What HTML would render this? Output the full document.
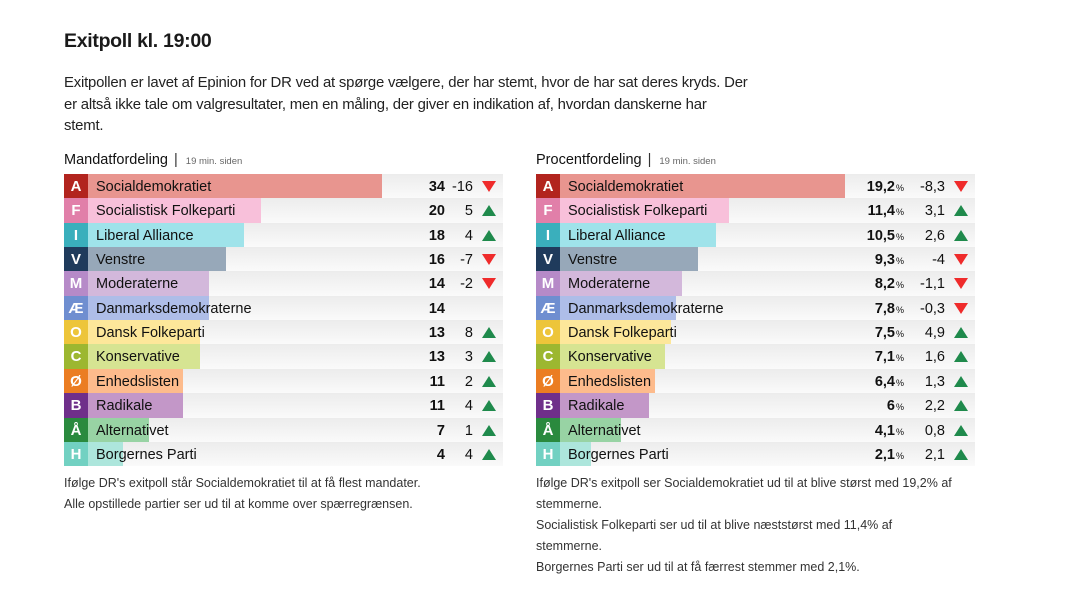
<!DOCTYPE html>
<html><head><meta charset="utf-8">
<style>
*{margin:0;padding:0;box-sizing:border-box}
body{width:1080px;height:603px;background:#fff;font-family:"Liberation Sans",sans-serif;color:#1a1a1a;position:relative;overflow:hidden}
.abs{position:absolute;white-space:nowrap}
h1{position:absolute;left:64px;top:30px;font-size:19.5px;font-weight:bold;letter-spacing:-0.3px}
.intro{position:absolute;left:64px;top:73px;font-size:14.9px;line-height:21.5px;letter-spacing:-0.2px;color:#222;white-space:nowrap}
.hd{font-size:14.5px;color:#111;top:152px}
.hd small{font-size:9.5px;color:#666;margin-left:4px}
.hd .sep{color:#333;margin:0 4px 0 6px}
.row{position:absolute;height:24.4px;background:linear-gradient(#ececec,#fafafa)}
.row .lt{position:absolute;left:0;top:0;width:24px;height:100%;color:#fff;font-weight:bold;font-size:15px;text-align:center;line-height:25px}
.row .bar{position:absolute;left:24px;top:0;height:100%}
.row .nm{position:absolute;left:32px;top:0;line-height:26px;font-size:14.5px;color:#111}
.row .v{position:absolute;top:0;line-height:26px;font-size:14.5px;font-weight:bold;text-align:right;color:#111}
.row .v small{font-size:9px;font-weight:normal;margin-left:1px}
.row .c{position:absolute;top:0;line-height:26px;font-size:14.5px;text-align:right;color:#111}
.up{position:absolute;width:0;height:0;border-left:7px solid transparent;border-right:7px solid transparent;border-bottom:11px solid #1f8a4c;top:7px}
.dn{position:absolute;width:0;height:0;border-left:7px solid transparent;border-right:7px solid transparent;border-top:11px solid #ef2b2b;top:7px}
.ft{position:absolute;font-size:12.5px;line-height:21px;color:#333;white-space:nowrap}
</style></head><body>
<h1>Exitpoll kl. 19:00</h1>
<div class="intro">Exitpollen er lavet af Epinion for DR ved at spørge vælgere, der har stemt, hvor de har sat deres kryds. Der<br>er altså ikke tale om valgresultater, men en måling, der giver en indikation af, hvordan danskerne har<br>stemt.</div>
<div class="abs hd" style="left:64px">Mandatfordeling<span class="sep">|</span><small>19 min. siden</small></div>
<div class="abs hd" style="left:536px">Procentfordeling<span class="sep">|</span><small>19 min. siden</small></div>
<div id="t"></div>
<div class="ft" style="left:64px;top:473px">Ifølge DR's exitpoll står Socialdemokratiet til at få flest mandater.<br>Alle opstillede partier ser ud til at komme over spærregrænsen.</div>
<div class="ft" style="left:536px;top:473px">Ifølge DR's exitpoll ser Socialdemokratiet ud til at blive størst med 19,2% af<br>stemmerne.<br>Socialistisk Folkeparti ser ud til at blive næststørst med 11,4% af<br>stemmerne.<br>Borgernes Parti ser ud til at få færrest stemmer med 2,1%.</div>
<script>
var P=[
["A","Socialdemokratiet","#b2241e","#e8958f",34,"-16",19.2,"-8,3"],
["F","Socialistisk Folkeparti","#e17fa9","#f8c0da",20,"5",11.4,"3,1"],
["I","Liberal Alliance","#3aafbc","#9fe3ea",18,"4",10.5,"2,6"],
["V","Venstre","#1f3b5c","#97a8b9",16,"-7",9.3,"-4"],
["M","Moderaterne","#b68ac8","#d3b8db",14,"-2",8.2,"-1,1"],
["Æ","Danmarksdemokraterne","#6f8ed0","#aebde8",14,"",7.8,"-0,3"],
["O","Dansk Folkeparti","#edc53a","#fde79a",13,"8",7.5,"4,9"],
["C","Konservative","#9cb730","#d6e492",13,"3",7.1,"1,6"],
["Ø","Enhedslisten","#eb7d22","#fdbb8c",11,"2",6.4,"1,3"],
["B","Radikale","#6f2f8a","#c397c8",11,"4",6,"2,2"],
["Å","Alternativet","#2a8a3e","#98d3a4",7,"1",4.1,"0,8"],
["H","Borgernes Parti","#72d1c2","#ade6dc",4,"4",2.1,"2,1"]];
var h="";
P.forEach(function(p,i){
 var y=174+i*24.35;
 function tri(c){if(!c)return"";return c.charAt(0)=="-"?'<div class="dn" style="left:418px"></div>':'<div class="up" style="left:418px"></div>';}
 h+='<div class="row" style="left:64px;top:'+y+'px;width:439px"><div class="bar" style="width:'+(p[4]*8.65)+'px;background:'+p[3]+'"></div><div class="lt" style="background:'+p[2]+'">'+p[0]+'</div><div class="nm">'+p[1]+'</div><div class="v" style="right:58px">'+p[4]+'</div><div class="c" style="right:30px">'+p[5]+'</div>'+tri(p[5])+'</div>';
 var pv=String(p[6]).replace(".",",");
 h+='<div class="row" style="left:536px;top:'+y+'px;width:439px"><div class="bar" style="width:'+(p[6]*14.85)+'px;background:'+p[3]+'"></div><div class="lt" style="background:'+p[2]+'">'+p[0]+'</div><div class="nm">'+p[1]+'</div><div class="v" style="right:71px">'+pv+'<small>%</small></div><div class="c" style="right:30px">'+p[7]+'</div>'+tri(p[7])+'</div>';
});
document.getElementById("t").innerHTML=h;
</script>
</body></html>
